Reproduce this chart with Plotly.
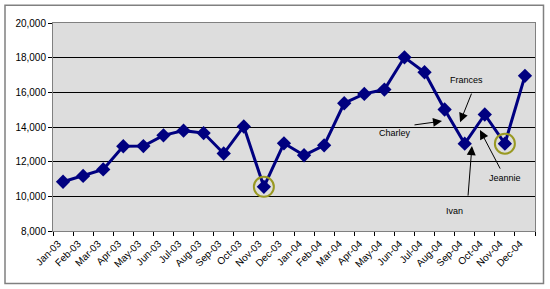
import plotly.graph_objects as go

months = ["Jan-03","Feb-03","Mar-03","Apr-03","May-03","Jun-03","Jul-03","Aug-03","Sep-03","Oct-03","Nov-03","Dec-03",
          "Jan-04","Feb-04","Mar-04","Apr-04","May-04","Jun-04","Jul-04","Aug-04","Sep-04","Oct-04","Nov-04","Dec-04"]
values = [10840, 11180, 11550, 12890, 12900, 13520, 13790, 13650, 12470, 14030, 10550, 13060,
          12370, 12940, 15370, 15910, 16160, 18020, 17160, 15010, 13040, 14720, 13040, 16950]
circled = ["Nov-03", "Nov-04"]

ann_labels = ["Frances", "Charley", "Ivan", "Jeannie"]
ann_text_pos = [(20.11, 16700), (16.53, 13650), (19.47, 9150), (22.0, 11050)]
ann_head_pos = [(19.77, 14280), (18.87, 14340), (20.36, 12900), (20.76, 13820)]
ann_tail_off = [(12, -30), (-29, 4), (-4, 51), (21, 40)]

fig = go.Figure()
fig.add_trace(go.Scatter(
    x=months, y=values, mode="lines+markers",
    line=dict(color="#000080", width=3),
    marker=dict(symbol="diamond", size=11, color="#000080"),
    showlegend=False, hoverinfo="skip"))
fig.add_trace(go.Scatter(
    x=circled, y=[values[months.index(m)] for m in circled], mode="markers",
    marker=dict(symbol="circle-open", size=20, color="#999922", line=dict(width=2, color="#999922")),
    showlegend=False, hoverinfo="skip"))

annotations = []
for lab, (tx, ty) in zip(ann_labels, ann_text_pos):
    annotations.append(dict(x=tx, y=ty, xref="x", yref="y", text=lab, showarrow=False,
                            font=dict(family="Liberation Sans, Arial", size=9, color="black")))
for (hx, hy), (ox, oy) in zip(ann_head_pos, ann_tail_off):
    annotations.append(dict(x=hx, y=hy, xref="x", yref="y", text="", showarrow=True,
                            ax=ox, ay=oy, arrowhead=2, arrowsize=1.8, arrowwidth=1, arrowcolor="black"))

# outer chart border
x0 = (5 - 53) / 482
x1 = (543.5 - 53) / 482
y0 = (231 - 283.5) / 208.3
y1 = (231 - 5) / 208.3
fig.add_shape(type="rect", xref="paper", yref="paper", x0=x0, x1=x1, y0=y0, y1=y1,
              line=dict(color="#808080", width=1.5), fillcolor="rgba(0,0,0,0)", layer="below")

fig.update_layout(
    width=550, height=289,
    margin=dict(l=53, r=15, t=23, b=58),
    paper_bgcolor="white", plot_bgcolor="#dddddd",
    font=dict(family="Liberation Sans, Arial", size=10, color="black"),
    annotations=annotations,
    xaxis=dict(type="category", tickson="boundaries", ticks="outside", ticklen=4, tickcolor="black",
               tickangle=-45, showgrid=False, showline=True, linecolor="#808080", mirror=True,
               tickfont=dict(size=10), range=[-0.5, 23.5], ticklabelshift=-5, ticklabelstandoff=2),
    yaxis=dict(range=[8000, 20000], dtick=2000, tickformat=",", ticks="outside", ticklen=4,
               tickcolor="black", showgrid=True, gridcolor="black", gridwidth=1,
               showline=True, linecolor="#808080", mirror=True, zeroline=False,
               tickfont=dict(size=10)),
)

fig.write_html("out.html")
